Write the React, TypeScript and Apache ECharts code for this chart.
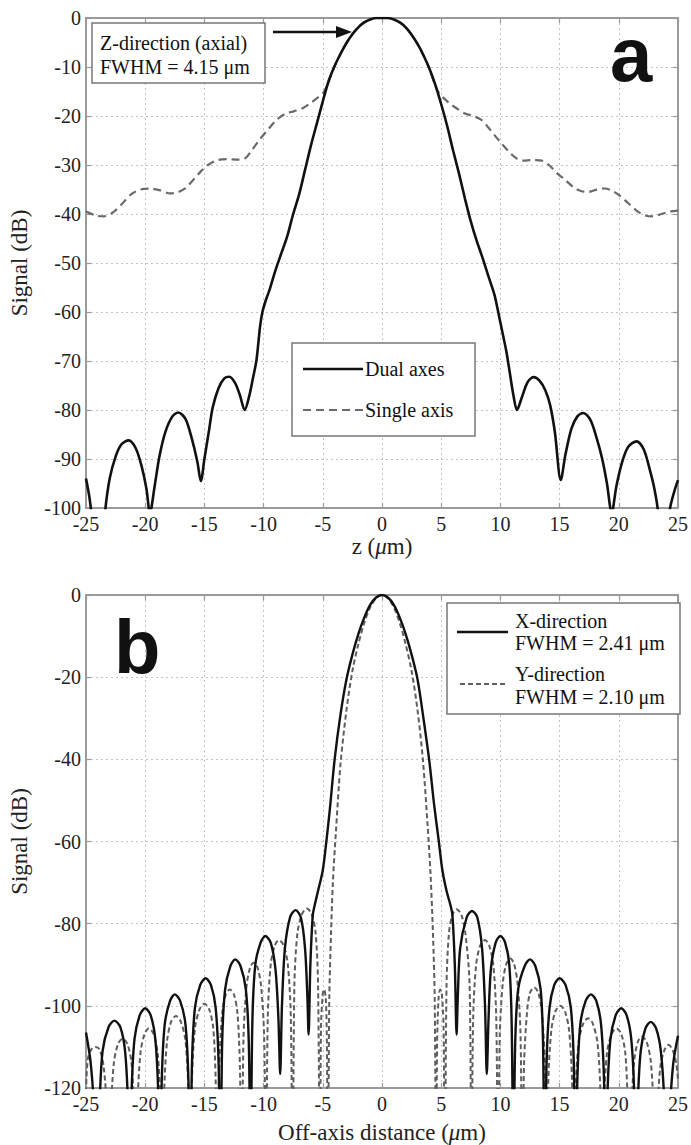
import React, { useEffect, useRef } from "react";
import * as echarts from "echarts";

// ---------- Panel a: axial PSF (z, dB) ----------
const zDualAxes: number[][] = [
  [-25, -94], [-24.7, -98], [-24.4, -104], [-23.9, -115], [-23.4, -101], [-23.0, -94], [-22.5, -89.5], [-22.0, -87],
  [-21.4, -86.2], [-20.8, -87.8], [-20.3, -91.5], [-19.9, -96], [-19.6, -101], [-19.2, -95.5], [-18.8, -89.5],
  [-18.3, -84.5], [-17.7, -81.3], [-17.2, -80.5], [-16.6, -81.8], [-16.1, -85.5], [-15.6, -90.5], [-15.3, -94.5],
  [-15.0, -90], [-14.6, -84], [-14.3, -79.5], [-13.8, -75.5], [-13.3, -73.5], [-12.9, -73.2], [-12.4, -74.5],
  [-12.0, -77], [-11.6, -80], [-11.2, -77], [-10.9, -73.5], [-10.6, -69.8], [-10.3, -63], [-10.1, -60], [-9.8, -57.5],
  [-9.5, -55.5], [-9.0, -51.5], [-8.5, -48], [-8.0, -44.5], [-7.5, -40], [-7.0, -36], [-6.5, -31], [-6.0, -26],
  [-5.5, -21.5], [-5.0, -17], [-4.5, -12.8], [-4.0, -9.8], [-3.5, -7.3], [-3.0, -5.1], [-2.5, -3.3], [-2.0, -1.9],
  [-1.5, -0.9], [-1.0, -0.3], [-0.5, 0], [0, 0], [0.5, 0], [1.0, -0.3], [1.5, -0.9], [2.0, -1.9], [2.5, -3.4],
  [3.0, -5.3], [3.5, -7.6], [4.0, -10.3], [4.5, -13.6], [5.0, -17.6], [5.5, -22], [6.0, -27], [6.5, -31.7],
  [7.0, -36.8], [7.5, -41.5], [8.0, -45.5], [8.5, -49], [9.0, -52.8], [9.5, -56.5], [9.9, -61], [10.2, -64.5],
  [10.5, -68], [10.8, -72.5], [11.1, -77], [11.4, -80], [11.8, -77.5], [12.3, -74.3], [12.8, -73.3], [13.3, -74],
  [13.8, -76], [14.2, -79], [14.6, -84.5], [15.1, -94.3], [15.5, -89], [16.0, -83.8], [16.5, -81.3], [17.0, -80.6],
  [17.6, -82], [18.1, -85.5], [18.6, -90], [19.0, -95], [19.4, -101], [19.8, -95.5], [20.3, -90.5], [20.8, -87.5],
  [21.5, -86.4], [22.1, -88], [22.6, -92], [23.0, -96], [23.3, -100.5], [23.8, -115], [24.3, -100.5], [24.7, -96.5],
  [25, -94.3],
];

const zSingleAxis: number[][] = [
  [-25, -39.5], [-24.2, -40.3], [-23.5, -40.5], [-22.8, -39.8], [-22.1, -38.3], [-21.2, -36], [-20.4, -35],
  [-19.6, -34.8], [-18.7, -35.2], [-17.9, -35.8], [-17.3, -35.6], [-16.6, -34.7], [-16.0, -33.2], [-15.3, -31.3],
  [-14.7, -30], [-13.9, -29], [-13.0, -28.8], [-12.2, -28.9], [-11.6, -28.7], [-11.0, -27], [-10.3, -24.7],
  [-9.6, -22.7], [-8.9, -20.8], [-8.2, -19.6], [-7.4, -19], [-6.7, -18.4], [-6.0, -17.3], [-5.4, -16.2],
  [-5.0, -15.4], [-4.6, -13.6], [-4.0, -9.8], [-3.5, -7.3], [-3.0, -5.1], [-2.5, -3.3], [-2.0, -1.9], [-1.5, -0.9],
  [-1.0, -0.3], [-0.5, 0], [0, 0], [0.5, 0], [1.0, -0.3], [1.5, -0.9], [2.0, -1.9], [2.5, -3.4], [3.0, -5.3],
  [3.5, -7.6], [4.0, -10.3], [4.65, -14.7], [5.2, -16.3], [5.8, -17.6], [6.4, -18.6], [7.0, -19.5], [7.7, -20],
  [8.4, -20.8], [9.0, -22.4], [9.6, -24.2], [10.1, -25.6], [10.8, -27.5], [11.4, -28.7], [11.9, -29.1], [12.7, -29],
  [13.5, -29.1], [14.1, -30], [14.8, -31.7], [15.5, -33.1], [16.2, -34.6], [16.8, -35.3], [17.4, -35.5], [18.2, -35],
  [18.8, -34.8], [19.4, -35.2], [20.1, -36.3], [20.8, -37.8], [21.5, -39.3], [22.2, -40.3], [22.9, -40.5],
  [23.6, -40], [24.3, -39.5], [25, -39.3],
];

// ---------- Panel b: lateral PSF (off-axis distance, dB) ----------
const xDirection: number[][] = [
  [-25, -106.5], [-24.6, -114], [-24.25, -128], [-24.0, -145],
  [-23.85, -124], [-23.6, -111], [-23.1, -105.2], [-22.6, -103.6], [-22.1, -105.2], [-21.7, -111], [-21.45, -124], [-21.3, -145],
  [-21.15, -121], [-20.9, -108], [-20.45, -102.2], [-20.0, -100.6], [-19.55, -102.2], [-19.15, -108], [-18.9, -121], [-18.75, -145],
  [-18.6, -118], [-18.35, -104.5], [-17.9, -98.8], [-17.5, -97.2], [-17.05, -98.8], [-16.6, -104.5], [-16.35, -118], [-16.2, -145],
  [-16.05, -114], [-15.8, -100.5], [-15.35, -94.9], [-14.9, -93.3], [-14.45, -94.9], [-14.05, -100.5], [-13.8, -114], [-13.65, -145],
  [-13.5, -109], [-13.25, -96], [-12.8, -90.3], [-12.4, -88.7], [-11.95, -90.3], [-11.5, -96], [-11.25, -109], [-11.1, -140],
  [-10.95, -104], [-10.7, -90], [-10.25, -84.6], [-9.85, -83], [-9.4, -84.6], [-9.0, -91], [-8.75, -103], [-8.6, -116.6],
  [-8.45, -100], [-8.2, -86], [-7.75, -78.3], [-7.3, -76.7], [-6.85, -78.5], [-6.5, -86], [-6.3, -98], [-6.2, -107],
  [-6.05, -90], [-5.85, -78], [-5.7, -75.7], [-5.4, -72], [-5.0, -67], [-4.7, -60], [-4.4, -52], [-4.0, -40],
  [-3.5, -29], [-3.0, -20.5], [-2.5, -14.5], [-2.0, -9.5], [-1.5, -5.5], [-1.0, -2.4], [-0.5, -0.6], [0, 0],
  [0.5, -0.6], [1.0, -2.4], [1.5, -5.5], [2.0, -9.5], [2.5, -14.5], [3.0, -20.5], [3.5, -30], [4.0, -40.5],
  [4.4, -51], [4.8, -60], [5.1, -67], [5.45, -72], [5.8, -75.7], [5.95, -78], [6.15, -90], [6.3, -107],
  [6.4, -98], [6.6, -86], [7.15, -78.5], [7.6, -76.9], [8.05, -78.5], [8.45, -86], [8.7, -100], [8.85, -116.6],
  [9.0, -103], [9.2, -91], [9.6, -84.6], [10.0, -83], [10.4, -84.6], [10.75, -90], [10.95, -104], [11.1, -140],
  [11.25, -109], [11.5, -96], [12.05, -90.3], [12.5, -88.7], [12.95, -90.3], [13.4, -96], [13.6, -109], [13.75, -145],
  [13.9, -114], [14.15, -100.5], [14.55, -94.9], [15.0, -93.3], [15.5, -94.9], [15.95, -100.5], [16.2, -114], [16.35, -145],
  [16.5, -118], [16.75, -104.5], [17.2, -98.8], [17.65, -97.2], [18.1, -98.8], [18.5, -104.5], [18.75, -118], [18.9, -145],
  [19.05, -121], [19.3, -108], [19.75, -102.2], [20.2, -100.6], [20.65, -102.2], [21.05, -108], [21.3, -121], [21.45, -145],
  [21.6, -124], [21.85, -111], [22.25, -105.5], [22.7, -103.9], [23.15, -105.5], [23.55, -111], [23.85, -124], [24.0, -145],
  [24.25, -128], [24.6, -114], [25, -107.3],
];

const yDirection: number[][] = [
  [-25, -121], [-24.85, -113], [-24.55, -110.6], [-24.2, -110], [-23.85, -110.6], [-23.5, -115], [-23.2, -127], [-23.05, -145],
  [-22.9, -126], [-22.65, -114], [-22.3, -109.3], [-21.9, -108], [-21.5, -109.3], [-21.15, -114], [-20.95, -126], [-20.8, -145],
  [-20.65, -124], [-20.4, -111.5], [-20.05, -106.8], [-19.7, -105.5], [-19.3, -106.8], [-18.95, -111.5], [-18.7, -124], [-18.55, -145],
  [-18.4, -121], [-18.15, -108.5], [-17.8, -103.8], [-17.4, -102.5], [-17.0, -103.8], [-16.6, -108.5], [-16.35, -121], [-16.2, -145],
  [-16.05, -118], [-15.8, -105.5], [-15.4, -100.8], [-15.0, -99.5], [-14.6, -100.8], [-14.25, -105.5], [-14.05, -118], [-13.9, -145],
  [-13.75, -115], [-13.5, -102], [-13.2, -97.3], [-12.85, -96], [-12.5, -97.3], [-12.2, -102], [-12.0, -115], [-11.85, -145],
  [-11.7, -108], [-11.45, -95.5], [-11.15, -90.8], [-10.85, -89.5], [-10.5, -90.8], [-10.2, -95.5], [-9.95, -108], [-9.8, -145],
  [-9.65, -103], [-9.4, -90], [-9.05, -85.3], [-8.7, -84], [-8.3, -85.3], [-7.95, -90], [-7.7, -103], [-7.55, -145],
  [-7.4, -95], [-7.15, -82.5], [-6.75, -77.6], [-6.35, -76.3], [-5.95, -77.6], [-5.6, -82.5], [-5.4, -95], [-5.25, -145],
  [-5.15, -105], [-5.0, -97], [-4.9, -96], [-4.75, -98], [-4.65, -110], [-4.58, -145],
  [-4.45, -98], [-4.3, -82], [-4.15, -70], [-3.9, -58], [-3.5, -41], [-3.0, -28], [-2.5, -18.5], [-2.0, -12],
  [-1.5, -6.8], [-1.0, -3.0], [-0.5, -0.8], [0, 0], [0.5, -0.8], [1.0, -3.0], [1.5, -6.8], [2.0, -12],
  [2.5, -18.5], [3.0, -28], [3.45, -40], [3.85, -56], [4.1, -68], [4.3, -82], [4.45, -98], [4.58, -145],
  [4.65, -110], [4.78, -98], [4.92, -96], [5.05, -97], [5.2, -105], [5.3, -145],
  [5.45, -95], [5.65, -82.5], [5.95, -77.8], [6.3, -76.5], [6.7, -77.8], [7.05, -82.5], [7.4, -95], [7.55, -145],
  [7.7, -103], [7.95, -90], [8.3, -85.3], [8.7, -84], [9.05, -85.3], [9.4, -90], [9.65, -103], [9.8, -145],
  [9.95, -107], [10.2, -94.5], [10.5, -89.8], [10.85, -88.5], [11.15, -89.8], [11.45, -94.5], [11.7, -107], [11.85, -145],
  [12.0, -114], [12.25, -101.5], [12.5, -96.8], [12.85, -95.5], [13.2, -96.8], [13.5, -101.5], [13.75, -114], [13.9, -145],
  [14.05, -118], [14.3, -106], [14.65, -101.3], [15.05, -100], [15.45, -101.3], [15.8, -106], [16.05, -118], [16.2, -145],
  [16.35, -121], [16.6, -109], [17.0, -104.3], [17.4, -103], [17.8, -104.3], [18.2, -109], [18.45, -121], [18.6, -145],
  [18.75, -124], [19.0, -111.5], [19.4, -106.8], [19.8, -105.5], [20.2, -106.8], [20.55, -111.5], [20.75, -124], [20.9, -145],
  [21.05, -126], [21.3, -113.5], [21.6, -108.8], [21.95, -107.5], [22.35, -108.8], [22.7, -113.5], [22.95, -126], [23.1, -145],
  [23.25, -127], [23.5, -115], [23.85, -110.8], [24.2, -109.5], [24.55, -110.8], [24.85, -114], [25, -118],
];

const X_MIN = -25, X_MAX = 25, X_STEP = 5;
const A_Y_MIN = -100, A_Y_STEP = 10;
const B_Y_MIN = -120, B_Y_STEP = 20;

const SERIF = "Liberation Serif";
const SANS = "Liberation Sans";
const TXT = "#222";
const FRAME = "#9a9a9a";

export default function App() {
  const ref = useRef<HTMLDivElement>(null);

  useEffect(() => {
    document.body.style.margin = "0";
    const chart = echarts.init(ref.current!, null, { renderer: "svg" });

    const grids = [
      { left: 86, top: 18, width: 594, height: 490 },
      { left: 86, top: 595, width: 594, height: 494 },
    ];

    const serifRich = {
      t: { fontFamily: SERIF, fontSize: 20, color: TXT },
    };
    const nameRich = {
      t: { fontFamily: SERIF, fontSize: 23, color: TXT },
      i: { fontFamily: SERIF, fontSize: 23, color: TXT, fontStyle: "italic" },
    };
    const split = { show: true, lineStyle: { color: "#c4c4c4", type: [2, 3], width: 1 } };
    const tick = { show: true, inside: true, length: 5, lineStyle: { color: FRAME, width: 1.2 } };
    const line = { show: true, onZero: false, lineStyle: { color: FRAME, width: 2 } };
    const nameStyle = { fontFamily: SERIF, fontSize: 23, color: TXT, rich: nameRich };
    const tickLabel = (margin: number) => ({
      margin, fontFamily: SERIF, fontSize: 20, color: TXT,
      formatter: (v: number) => `{t|${v}}`,
      rich: serifRich,
    });

    const mkX = (gi: number, pos: string, main: boolean, name?: string, gap?: number) => ({
      type: "value", gridIndex: gi, position: pos, min: X_MIN, max: X_MAX, interval: X_STEP,
      axisLine: line, axisTick: tick,
      axisLabel: main ? tickLabel(6) : { show: false },
      splitLine: main ? split : { show: false },
      name: main ? name : undefined, nameLocation: "middle", nameGap: gap, nameTextStyle: nameStyle,
    });
    const mkY = (gi: number, pos: string, main: boolean, min: number, step: number, name?: string) => ({
      type: "value", gridIndex: gi, position: pos, min, max: 0, interval: step,
      axisLine: line, axisTick: tick,
      axisLabel: main ? tickLabel(5) : { show: false },
      splitLine: main ? split : { show: false },
      name: main ? name : undefined, nameLocation: "middle", nameGap: 55, nameTextStyle: nameStyle,
    });

    const lineSeries = (data: number[][], xi: number, yi: number, color: string, width: number, type: any, z: number) => ({
      type: "line", xAxisIndex: xi, yAxisIndex: yi, data, showSymbol: false, symbol: "none",
      smooth: 0.3, clip: true, z,
      lineStyle: { color, width, type },
    });

    const txt = (text: string, x: number, y: number, size = 20, font = SERIF, weight = "normal") => ({
      type: "text", z: 100, x, y,
      style: {
        text: `{s|${text}}`,
        rich: { s: { fontFamily: font, fontSize: size, fontWeight: weight, fill: "#111" } },
        fontFamily: font, fontSize: size, fontWeight: weight, fill: "#111",
        textAlign: "left", textVerticalAlign: "middle",
      },
    });

    chart.setOption({
      animation: false,
      backgroundColor: "#fff",
      grid: grids,
      xAxis: [
        mkX(0, "bottom", true, "{t|z (}{i|μ}{t|m)}", 26),
        mkX(0, "top", false),
        mkX(1, "bottom", true, "{t|Off-axis distance (}{i|μ}{t|m)}", 33),
        mkX(1, "top", false),
      ],
      yAxis: [
        mkY(0, "left", true, A_Y_MIN, A_Y_STEP, "{t|Signal (dB)}"),
        mkY(0, "right", false, A_Y_MIN, A_Y_STEP),
        mkY(1, "left", true, B_Y_MIN, B_Y_STEP, "{t|Signal (dB)}"),
        mkY(1, "right", false, B_Y_MIN, B_Y_STEP),
      ],
      series: [
        lineSeries(zSingleAxis, 0, 0, "#6a6a6a", 2.2, [8, 5], 2),
        lineSeries(zDualAxes, 0, 0, "#111", 2.6, "solid", 3),
        lineSeries(yDirection, 2, 2, "#5e5e5e", 2, [5, 3], 2),
        lineSeries(xDirection, 2, 2, "#111", 2.4, "solid", 3),
      ],
      graphic: [
        // panel a annotation
        { type: "rect", z: 100, shape: { x: 92, y: 23, width: 173, height: 60 }, style: { fill: "#fff", stroke: "#777", lineWidth: 1.5 } },
        txt("Z-direction (axial)", 100, 43),
        txt("FWHM = 4.15 μm", 100, 67),
        { type: "line", z: 100, shape: { x1: 273, y1: 32, x2: 340, y2: 32 }, style: { stroke: "#111", lineWidth: 2.5 } },
        { type: "polygon", z: 100, shape: { points: [[352, 32], [336, 26], [336, 38]] }, style: { fill: "#111" } },
        txt("a", 610, 54, 76, SANS, "bold"),
        // panel a legend
        { type: "rect", z: 100, shape: { x: 292, y: 343, width: 183, height: 93 }, style: { fill: "#fff", stroke: "#777", lineWidth: 1.5 } },
        { type: "line", z: 101, shape: { x1: 303, y1: 369, x2: 363, y2: 369 }, style: { stroke: "#111", lineWidth: 2.6 } },
        { type: "line", z: 101, shape: { x1: 303, y1: 410, x2: 363, y2: 410 }, style: { stroke: "#6a6a6a", lineWidth: 2.2, lineDash: [8, 5] } },
        txt("Dual axes", 365, 369),
        txt("Single axis", 365, 410),
        // panel b label and legend
        txt("b", 114, 646, 76, SANS, "bold"),
        { type: "rect", z: 100, shape: { x: 447, y: 603, width: 233, height: 111 }, style: { fill: "#fff", stroke: "#777", lineWidth: 1.5 } },
        { type: "line", z: 101, shape: { x1: 457, y1: 632, x2: 508, y2: 632 }, style: { stroke: "#111", lineWidth: 2.4 } },
        { type: "line", z: 101, shape: { x1: 460, y1: 684, x2: 508, y2: 684 }, style: { stroke: "#5e5e5e", lineWidth: 2, lineDash: [5, 3] } },
        txt("X-direction", 515, 621),
        txt("FWHM = 2.41 μm", 515, 643),
        txt("Y-direction", 515, 674),
        txt("FWHM = 2.10 μm", 515, 697),
      ],
    });

    return () => chart.dispose();
  }, []);

  return <div ref={ref} style={{ width: 691, height: 1145 }} />;
}
